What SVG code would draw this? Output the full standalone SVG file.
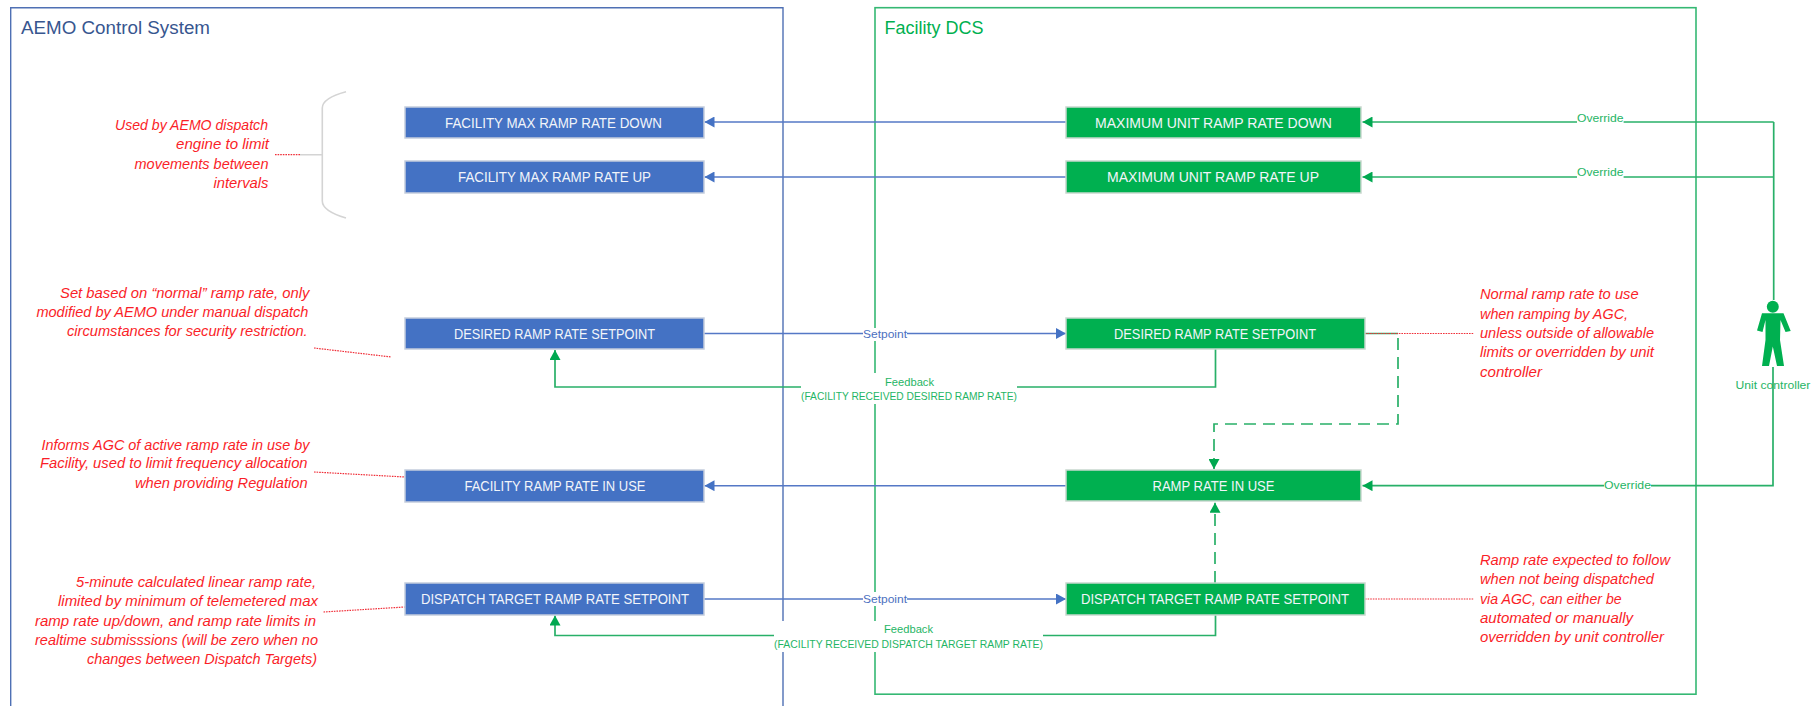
<svg xmlns="http://www.w3.org/2000/svg" width="1813" height="706" viewBox="0 0 1813 706">
<style>
text{font-family:"Liberation Sans",Arial,sans-serif}
.frameB{fill:none;stroke:#4f70b4;stroke-width:1.4}
.frameG{fill:none;stroke:#35b873;stroke-width:1.6}
.b{fill:none;stroke:#5578c6;stroke-width:1.6}
.g{fill:none;stroke:#28b068;stroke-width:1.7}
.d{stroke-dasharray:12 7}
.r{fill:none;stroke:#f0303a;stroke-width:1.2;stroke-dasharray:1.6 1}
.nb rect{fill:#4472C4;stroke:#c4cddd;stroke-width:1.5}
.ng rect{fill:#00B050;stroke:#c8d8ce;stroke-width:1.5}
.nb text,.ng text{fill:#f2f5fa;font-size:14px}
.note text{fill:#fa1e28;font-size:15px;font-style:italic}
.lab{font-size:11.5px}
.lg{fill:#1fb565}
.lb{fill:#4c70c0}
.m{fill:#fff}
</style>
<defs>
<marker id="ab" markerUnits="userSpaceOnUse" markerWidth="11" markerHeight="11" refX="10" refY="5.500" orient="auto"><path d="M0 0L10 5.500L0 11Z" fill="#4472C4"/></marker>
<marker id="ag" markerUnits="userSpaceOnUse" markerWidth="11" markerHeight="11" refX="10" refY="5.500" orient="auto"><path d="M0 0L10 5.500L0 11Z" fill="#00A850"/></marker>
</defs>
<rect width="1813" height="706" fill="#fff"/>
<g id="frames">
<path class="frameB" d="M10.7 720V7.7H783V720"/>
<rect class="frameG" x="875" y="7.7" width="821" height="686.5"/>
<text x="21" y="34" font-size="17.5" fill="#37568f" textLength="189" lengthAdjust="spacingAndGlyphs">AEMO Control System</text>
<text x="884.5" y="34" font-size="17.5" fill="#00B050" textLength="99" lengthAdjust="spacingAndGlyphs">Facility DCS</text>
</g>
<g id="connectors">
<path class="b" marker-end="url(#ab)" d="M1066 122H704.500"/>
<path class="b" marker-end="url(#ab)" d="M1066 177H704.500"/>
<path class="b" marker-end="url(#ab)" d="M704 333.500H1066"/>
<path class="b" marker-end="url(#ab)" d="M1066 485.700H704.500"/>
<path class="b" marker-end="url(#ab)" d="M704 599H1066"/>
<path class="g" marker-end="url(#ag)" d="M1215.500 349V387H555V350"/>
<path class="g" marker-end="url(#ag)" d="M1215.500 615V635.500H555V615.500"/>
<path class="g" marker-end="url(#ag)" d="M1773.700 122H1362.500"/>
<path class="g" marker-end="url(#ag)" d="M1773.700 177H1362.500"/>
<path class="g" marker-end="url(#ag)" d="M1773 367V485.700H1362.500"/>
<path class="g" d="M1773.700 122V300"/>
<path class="g" d="M1365 333.500H1398"/>
<path class="g d" marker-end="url(#ag)" d="M1398 338V424H1214V469"/>
<path class="g d" marker-end="url(#ag)" d="M1215 583V502.700"/>
<path class="r" d="M1365 333.500H1474M1365 599H1474M275 154.700H300M314 348L391.500 357M314 472L405 477M323.500 612L405 607"/>
<path d="M346 91.700Q322.300 98 322.300 108V201Q322.300 211 346 218M300 154.700H322.300" fill="none" stroke="#d4d4d4" stroke-width="1.6"/>
</g>
<g id="connector-labels">
<rect class="m" x="863" y="328" width="44" height="13"/>
<text class="lab lb" x="863" y="337.500" textLength="44" lengthAdjust="spacingAndGlyphs">Setpoint</text>
<rect class="m" x="863" y="592" width="44" height="14"/>
<text class="lab lb" x="863" y="603" textLength="44" lengthAdjust="spacingAndGlyphs">Setpoint</text>
<rect class="m" x="801" y="373" width="216" height="31"/>
<text class="lab lg" x="885" y="386" textLength="49" lengthAdjust="spacingAndGlyphs">Feedback</text>
<text class="lab lg" x="801" y="400" textLength="216" lengthAdjust="spacingAndGlyphs">(FACILITY RECEIVED DESIRED RAMP RATE)</text>
<rect class="m" x="774" y="621" width="269" height="31"/>
<text class="lab lg" x="884" y="633" textLength="49" lengthAdjust="spacingAndGlyphs">Feedback</text>
<text class="lab lg" x="774" y="648" textLength="269" lengthAdjust="spacingAndGlyphs">(FACILITY RECEIVED DISPATCH TARGET RAMP RATE)</text>
<rect class="m" x="1577" y="112" width="46.600" height="14"/>
<text class="lab lg" x="1577" y="121.500" textLength="46.600" lengthAdjust="spacingAndGlyphs">Override</text>
<rect class="m" x="1577" y="167" width="46.600" height="14"/>
<text class="lab lg" x="1577" y="176" textLength="46.600" lengthAdjust="spacingAndGlyphs">Override</text>
<rect class="m" x="1604" y="478" width="47" height="14"/>
<text class="lab lg" x="1604" y="489" textLength="47" lengthAdjust="spacingAndGlyphs">Override</text>
</g>
<g id="aemo-max-down" class="nb"><rect x="405" y="107" width="299" height="31"/><text x="445" y="127.500" textLength="217" lengthAdjust="spacingAndGlyphs">FACILITY MAX RAMP RATE DOWN</text></g>
<g id="aemo-max-up" class="nb"><rect x="405" y="161" width="299" height="32"/><text x="458" y="182" textLength="193" lengthAdjust="spacingAndGlyphs">FACILITY MAX RAMP RATE UP</text></g>
<g id="aemo-desired" class="nb"><rect x="405" y="318" width="299" height="31"/><text x="454" y="338.500" textLength="201" lengthAdjust="spacingAndGlyphs">DESIRED RAMP RATE SETPOINT</text></g>
<g id="aemo-in-use" class="nb"><rect x="405" y="470" width="299" height="32"/><text x="464.500" y="490.500" textLength="181" lengthAdjust="spacingAndGlyphs">FACILITY RAMP RATE IN USE</text></g>
<g id="aemo-dispatch" class="nb"><rect x="405" y="583" width="299" height="32"/><text x="421" y="604" textLength="268" lengthAdjust="spacingAndGlyphs">DISPATCH TARGET RAMP RATE SETPOINT</text></g>
<g id="dcs-max-down" class="ng"><rect x="1066" y="107" width="295" height="31"/><text x="1095" y="127.500" textLength="237" lengthAdjust="spacingAndGlyphs">MAXIMUM UNIT RAMP RATE DOWN</text></g>
<g id="dcs-max-up" class="ng"><rect x="1066" y="161" width="295" height="32"/><text x="1107" y="182" textLength="212" lengthAdjust="spacingAndGlyphs">MAXIMUM UNIT RAMP RATE UP</text></g>
<g id="dcs-desired" class="ng"><rect x="1066" y="318" width="299" height="31"/><text x="1114" y="338.500" textLength="202" lengthAdjust="spacingAndGlyphs">DESIRED RAMP RATE SETPOINT</text></g>
<g id="dcs-in-use" class="ng"><rect x="1066" y="470" width="295" height="31"/><text x="1152.500" y="490.500" textLength="122" lengthAdjust="spacingAndGlyphs">RAMP RATE IN USE</text></g>
<g id="dcs-dispatch" class="ng"><rect x="1066" y="583" width="299" height="32"/><text x="1081" y="604" textLength="268" lengthAdjust="spacingAndGlyphs">DISPATCH TARGET RAMP RATE SETPOINT</text></g>
<g id="unit-controller">
<circle cx="1772.800" cy="306.700" r="6" fill="#00B050"/>
<path fill="#00B050" d="M1762 313.300H1783.500L1790.700 331L1785.500 332L1780.500 320L1780 340L1784 366H1777L1772.800 346.500L1769 366H1762L1765.500 340L1765.500 320L1762.500 332L1757 330.500Z"/>
<text class="lab lg" x="1735.600" y="389" textLength="74.800" lengthAdjust="spacingAndGlyphs">Unit controller</text>
</g>
<g class="note" id="note-limits">
<text x="115" y="130" textLength="153" lengthAdjust="spacingAndGlyphs">Used by AEMO dispatch</text>
<text x="176" y="149" textLength="93" lengthAdjust="spacingAndGlyphs">engine to limit</text>
<text x="134.500" y="169" textLength="134" lengthAdjust="spacingAndGlyphs">movements between</text>
<text x="213.500" y="188" textLength="55" lengthAdjust="spacingAndGlyphs">intervals</text>
</g>
<g class="note" id="note-desired">
<text x="60" y="298" textLength="249.500" lengthAdjust="spacingAndGlyphs">Set based on “normal” ramp rate, only</text>
<text x="36.400" y="316.700" textLength="272" lengthAdjust="spacingAndGlyphs">modified by AEMO under manual dispatch</text>
<text x="67" y="335.700" textLength="240.600" lengthAdjust="spacingAndGlyphs">circumstances for security restriction.</text>
</g>
<g class="note" id="note-in-use">
<text x="41.500" y="450" textLength="268" lengthAdjust="spacingAndGlyphs">Informs AGC of active ramp rate in use by</text>
<text x="40" y="468" textLength="267.600" lengthAdjust="spacingAndGlyphs">Facility, used to limit frequency allocation</text>
<text x="135" y="488" textLength="172.600" lengthAdjust="spacingAndGlyphs">when providing Regulation</text>
</g>
<g class="note" id="note-dispatch">
<text x="76" y="587" textLength="240" lengthAdjust="spacingAndGlyphs">5-minute calculated linear ramp rate,</text>
<text x="58" y="606" textLength="260" lengthAdjust="spacingAndGlyphs">limited by minimum of telemetered max</text>
<text x="35" y="625.500" textLength="281" lengthAdjust="spacingAndGlyphs">ramp rate up/down, and ramp rate limits in</text>
<text x="35" y="645" textLength="283" lengthAdjust="spacingAndGlyphs">realtime submisssions (will be zero when no</text>
<text x="87" y="664" textLength="230" lengthAdjust="spacingAndGlyphs">changes between Dispatch Targets)</text>
</g>
<g class="note" id="note-normal">
<text x="1480" y="299" textLength="158.600" lengthAdjust="spacingAndGlyphs">Normal ramp rate to use</text>
<text x="1480" y="319" textLength="148" lengthAdjust="spacingAndGlyphs">when ramping by AGC,</text>
<text x="1480" y="338" textLength="174" lengthAdjust="spacingAndGlyphs">unless outside of allowable</text>
<text x="1480" y="357" textLength="174" lengthAdjust="spacingAndGlyphs">limits or overridden by unit</text>
<text x="1480" y="377" textLength="62" lengthAdjust="spacingAndGlyphs">controller</text>
</g>
<g class="note" id="note-expected">
<text x="1480" y="565" textLength="190" lengthAdjust="spacingAndGlyphs">Ramp rate expected to follow</text>
<text x="1480" y="584" textLength="174" lengthAdjust="spacingAndGlyphs">when not being dispatched</text>
<text x="1480" y="603.500" textLength="141.600" lengthAdjust="spacingAndGlyphs">via AGC, can either be</text>
<text x="1480" y="622.700" textLength="153" lengthAdjust="spacingAndGlyphs">automated or manually</text>
<text x="1480" y="642" textLength="184" lengthAdjust="spacingAndGlyphs">overridden by unit controller</text>
</g>
</svg>
